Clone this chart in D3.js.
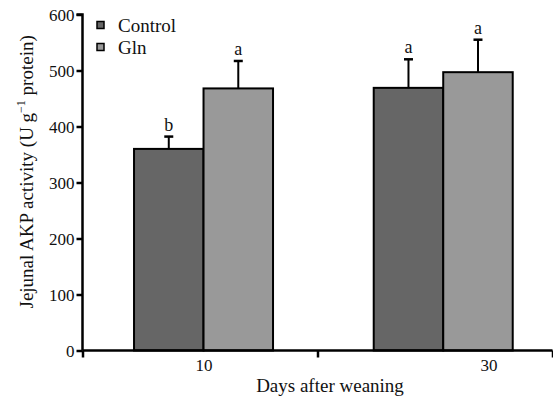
<!DOCTYPE html>
<html><head><meta charset="utf-8">
<script src="https://cdn.jsdelivr.net/npm/d3@7"></script>
<style>body{margin:0;background:#fff}svg{display:block}text{font-family:"Liberation Serif","Times New Roman",serif;fill:#111}</style>
</head><body>
<svg id="c" width="553" height="402"></svg>
<script>
const days = [10, 30];
const seriesNames = ["Control", "Gln"];
const controlMeans = [360, 469];
const controlErr = [22, 51];
const glnMeans = [468, 497];
const glnErr = [49, 58];
const controlLetters = ["b", "a"];
const glnLetters = ["a", "a"];
const yTicks = [0, 100, 200, 300, 400, 500, 600];
const xTickDays = [0, 20, 40];
const xLabels = ["10", "30"];

const colors = ["#666666", "#999999"];
const FF = "Liberation Serif";
const svg = d3.select("#c");
const y = d3.scaleLinear().domain([0, 600]).range([350.5, 14.5]);
const x = d3.scaleLinear().domain([0, 40]).range([82.5, 552.5]);
const barW = 69.5;
const labelDx = [4, 54];

const series = [
  {name: seriesNames[0], means: controlMeans, err: controlErr, letters: controlLetters, color: colors[0], off: -1},
  {name: seriesNames[1], means: glnMeans, err: glnErr, letters: glnLetters, color: colors[1], off: 0}
];

// bars
series.forEach(s => {
  days.forEach((d, i) => {
    const x0 = x(d + (i === 0 ? 0.3 : 0.7)) + s.off * barW;
    const top = y(s.means[i]);
    const etop = y(s.means[i] + s.err[i]);
    const cx = x0 + barW / 2;
    svg.append("line").attr("x1", cx).attr("x2", cx).attr("y1", top).attr("y2", etop)
      .attr("stroke", "#000").attr("stroke-width", 2);
    svg.append("line").attr("x1", cx - 4.5).attr("x2", cx + 4.5).attr("y1", etop).attr("y2", etop)
      .attr("stroke", "#000").attr("stroke-width", 2.5);
    svg.append("rect").attr("x", x0).attr("y", top).attr("width", barW).attr("height", y(0) - top)
      .attr("fill", s.color).attr("stroke", "#000").attr("stroke-width", 2);
    svg.append("text").attr("x", cx).attr("y", etop - 6).attr("text-anchor", "middle")
      .attr("font-family", FF).attr("font-size", 18).text(s.letters[i]);
  });
});

// y axis
const yAxis = d3.axisLeft(y).tickValues(yTicks).tickSize(6).tickPadding(2);
const gy = svg.append("g").attr("transform", "translate(82.5,0)").call(yAxis);
gy.attr("font-family", FF);
gy.selectAll("path,line").attr("stroke", "#000").attr("stroke-width", 2.5);
gy.select(".domain").attr("d", `M-6,${y(600)}H0V${y(0)}`);
gy.selectAll("text").attr("font-size", 17).attr("font-family", FF).attr("fill", "#111").attr("dy", "0.35em");

// x axis
const xAxis = d3.axisBottom(x).tickValues(xTickDays).tickSize(7).tickFormat("");
const gx = svg.append("g").attr("transform", `translate(0,${y(0)})`).call(xAxis);
gx.selectAll("path,line").attr("stroke", "#000").attr("stroke-width", 2.5);
gx.select(".domain").attr("d", `M${x(0)},0H${x(40)}`);
days.forEach((d, i) => {
  svg.append("text").attr("x", x(d) + labelDx[i]).attr("y", y(0) + 20).attr("text-anchor", "middle")
    .attr("font-family", FF).attr("font-size", 17).text(xLabels[i]);
});

// axis titles
svg.append("text").attr("x", 330).attr("y", 392).attr("text-anchor", "middle")
  .attr("font-family", FF).attr("font-size", 19).text("Days after weaning");
const yt = svg.append("text").attr("transform", `translate(33,${y(319)}) rotate(-90)`)
  .attr("text-anchor", "middle").attr("font-family", FF).attr("font-size", 19);
yt.append("tspan").text("Jejunal AKP activity (U g");
yt.append("tspan").attr("dy", -8).attr("font-size", 12).text("\u22121");
yt.append("tspan").attr("dy", 8).text(" protein)");

// legend
series.forEach((s, i) => {
  const ly = 25 + i * 22;
  svg.append("rect").attr("x", 97).attr("y", ly - 3.5).attr("width", 7).attr("height", 7)
    .attr("fill", s.color).attr("stroke", "#000").attr("stroke-width", 1.5);
  svg.append("text").attr("x", 118).attr("y", ly).attr("dy", "0.35em")
    .attr("font-family", FF).attr("font-size", 19).text(s.name);
});
</script>
</body></html>
